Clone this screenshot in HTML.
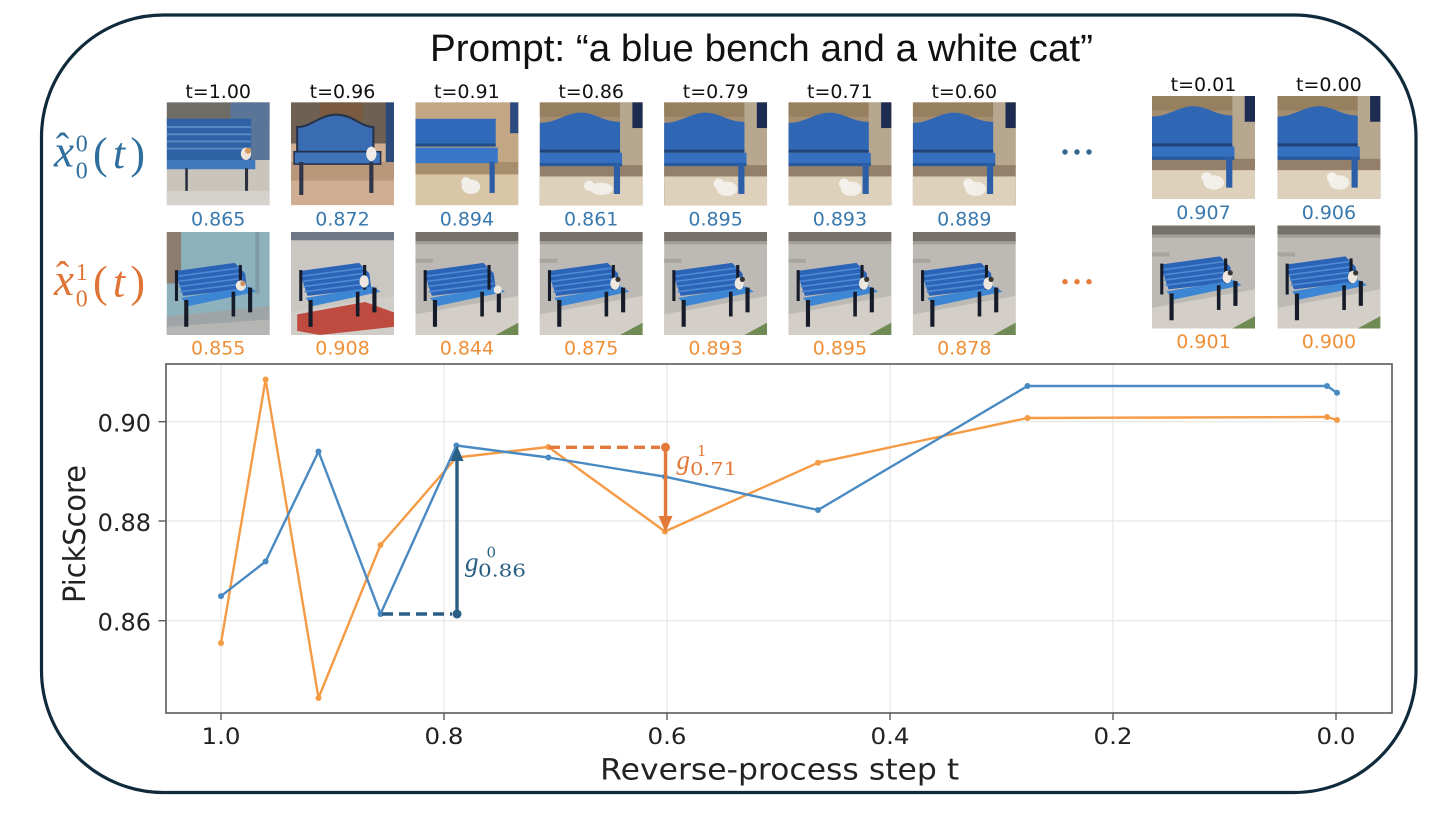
<!DOCTYPE html>
<html><head><meta charset="utf-8"><style>
html,body{margin:0;padding:0;background:#fff;}
svg{display:block;}
.lab{font-family:"DejaVu Sans",sans-serif;font-size:19px;fill:#111;text-anchor:middle;}
.sb{font-family:"DejaVu Sans",sans-serif;font-size:19px;fill:#3a79ae;text-anchor:middle;}
.so{font-family:"DejaVu Sans",sans-serif;font-size:19px;fill:#ef9039;text-anchor:middle;}
.tk{font-family:"DejaVu Sans",sans-serif;font-size:24px;fill:#222;}
.m{font-family:"Liberation Serif",serif;}
.d{font-family:"DejaVu Serif",serif;}
</style></head><body>
<svg width="1444" height="826" viewBox="0 0 1444 826" xmlns="http://www.w3.org/2000/svg">
<defs>
<symbol id="r1" viewBox="0 0 100 100" preserveAspectRatio="none">
<rect width="100" height="100" fill="#a58d71"/>
<rect x="0" y="0" width="100" height="14" fill="#97805f"/>
<rect x="78" y="0" width="22" height="64" fill="#b7a78f"/>
<rect x="90" y="0" width="10" height="25" fill="#1e2c52"/>
<rect x="0" y="61" width="100" height="39" fill="#94806a"/>
<rect x="0" y="72" width="100" height="28" fill="#ddd1bb"/>
<path d="M0,20 C16,20 26,10 40,10 C54,10 62,19 78,19 L78,47 L0,47 Z" fill="#2f67b4"/>
<rect x="0" y="46" width="78" height="3" fill="#1f4378"/>
<rect x="0" y="49" width="80" height="12" fill="#3570c0"/>
<rect x="0" y="59" width="80" height="3" fill="#28599d"/>
<rect x="72" y="60" width="6" height="29" fill="#2c5fa8"/>
</symbol>
<symbol id="r1a" viewBox="0 0 100 100" preserveAspectRatio="none">
<rect width="100" height="100" fill="#c9c4bc"/>
<rect width="100" height="20" fill="#6f6b66"/>
<rect x="62" y="0" width="38" height="56" fill="#5a7597"/>
<rect x="0" y="16" width="82" height="40" fill="#2e62a5"/>
<rect x="0" y="23" width="82" height="2" fill="#5888c2"/>
<rect x="0" y="30" width="82" height="2" fill="#5888c2"/>
<rect x="0" y="37" width="82" height="2" fill="#5888c2"/>
<rect x="0" y="44" width="82" height="2" fill="#5888c2"/>
<rect x="0" y="56" width="86" height="9" fill="#4079bd"/>
<rect x="18" y="64" width="2.5" height="26" fill="#2a303e"/>
<rect x="76" y="64" width="3" height="22" fill="#2a303e"/>
<rect x="0" y="86" width="100" height="14" fill="#d5d1cb"/>
</symbol>
<symbol id="r1b" viewBox="0 0 100 100" preserveAspectRatio="none">
<rect width="100" height="100" fill="#cfae93"/>
<rect width="100" height="40" fill="#6e6053"/>
<rect x="28" y="0" width="42" height="18" fill="#7a5b42"/>
<rect x="92" y="0" width="8" height="62" fill="#2b4a7a"/>
<rect x="0" y="58" width="100" height="18" fill="#b8977b"/>
<path d="M6,24 C20,24 28,12 44,12 C60,12 68,24 80,24 L80,48 L6,48 Z" fill="#3a6cb3" stroke="#25304a" stroke-width="2"/>
<rect x="3" y="48" width="84" height="12" fill="#3f74ba" stroke="#25304a" stroke-width="1.5"/>
<rect x="8" y="58" width="4" height="32" fill="#2e3548"/>
<rect x="76" y="58" width="4" height="30" fill="#2e3548"/>
</symbol>
<symbol id="r1c" viewBox="0 0 100 100" preserveAspectRatio="none">
<rect width="100" height="100" fill="#d8c6a7"/>
<rect width="100" height="58" fill="#c3a785"/>
<rect x="92" y="0" width="8" height="30" fill="#2b4a80"/>
<rect x="0" y="58" width="100" height="12" fill="#a58d6d"/>
<rect x="0" y="16" width="78" height="26" fill="#2f69b9"/>
<rect x="0" y="40" width="78" height="3" fill="#204c88"/>
<rect x="0" y="44" width="80" height="15" fill="#3777c6"/>
<rect x="72" y="58" width="5" height="30" fill="#2a5ca8"/>
</symbol>
<symbol id="b2" viewBox="0 0 100 100" preserveAspectRatio="none">
<polygon points="8,38 66,30 76,40 78,55 16,62" fill="#2b63b6"/>
<path d="M10,43 L70,35 M11,48 L72,40 M12,53 L74,45 M13,58 L76,50" stroke="#4d8ad3" stroke-width="1.6"/>
<polygon points="14,64 80,53 87,58 21,72" fill="#3d86d4"/>
<rect x="8" y="37" width="3" height="30" fill="#151b29"/>
<rect x="17" y="66" width="4" height="26" fill="#151b29"/>
<rect x="63" y="58" width="3.5" height="24" fill="#151b29"/>
<rect x="79" y="54" width="4" height="24" fill="#151b29"/>
<rect x="70" y="32" width="3" height="24" fill="#151b29"/>
</symbol>
<symbol id="r2" viewBox="0 0 100 100" preserveAspectRatio="none">
<rect width="100" height="100" fill="#bdbab5"/>
<rect width="100" height="9" fill="#76716a"/>
<rect y="9" width="100" height="3" fill="#a29e98"/>
<rect x="0" y="26" width="17" height="4" fill="#a8a49f"/>
<polygon points="0,80 100,62 100,100 0,100" fill="#d3cfc8"/>
<polygon points="78,100 100,88 100,100" fill="#6f8a52"/>
</symbol>
<symbol id="r2a" viewBox="0 0 100 100" preserveAspectRatio="none">
<rect width="100" height="100" fill="#8db2bd"/>
<rect width="14" height="50" fill="#8c7d6e"/>
<rect x="86" y="0" width="4" height="60" fill="#7f9ba5"/>
<polygon points="0,82 100,72 100,100 0,100" fill="#9fa5a6"/>
<polygon points="0,92 100,85 100,100 0,100" fill="#b5b6b3"/>
</symbol>
<symbol id="r2b" viewBox="0 0 100 100" preserveAspectRatio="none">
<rect width="100" height="100" fill="#cac6c1"/>
<rect width="100" height="8" fill="#6f7888"/>
<polygon points="0,78 100,62 100,100 0,100" fill="#d0cdc8"/>
<polygon points="6,80 72,68 100,78 100,92 28,100 6,96" fill="#bf4a40"/>
</symbol>
</defs>

<rect width="1444" height="826" fill="#fff"/>
<rect x="41.5" y="15" width="1374.5" height="777.5" rx="122" ry="122" fill="none" stroke="#0f2a3b" stroke-width="3.2"/>

<text x="430" y="61" font-family="'Liberation Sans',sans-serif" font-size="38" fill="#111" textLength="663" lengthAdjust="spacingAndGlyphs">Prompt:  “a blue bench and a white cat”</text>

<!-- row labels -->
<g fill="#2f6f9d">
<text class="m" x="62.5" y="160.5" font-size="40" text-anchor="middle">ˆ</text>
<text class="m" x="54" y="166.7" font-size="45" font-style="italic">x</text>
<text class="m" x="75.7" y="151.7" font-size="24">0</text>
<text class="m" x="75.7" y="178.3" font-size="24">0</text>
<text class="m" x="93" y="168" font-size="44" textLength="52" lengthAdjust="spacing">(<tspan font-style="italic">t</tspan>)</text>
</g>
<g fill="#df7436">
<text class="m" x="62.5" y="288.8" font-size="40" text-anchor="middle">ˆ</text>
<text class="m" x="54" y="295" font-size="45" font-style="italic">x</text>
<text class="m" x="75.7" y="280" font-size="24">1</text>
<text class="m" x="75.7" y="306.6" font-size="24">0</text>
<text class="m" x="93" y="296.3" font-size="44" textLength="52" lengthAdjust="spacing">(<tspan font-style="italic">t</tspan>)</text>
</g>

<!-- column labels -->
<text class="lab" x="218.2" y="98">t=1.00</text>
<text class="lab" x="342.5" y="98">t=0.96</text>
<text class="lab" x="466.9" y="98">t=0.91</text>
<text class="lab" x="591.2" y="98">t=0.86</text>
<text class="lab" x="715.6" y="98">t=0.79</text>
<text class="lab" x="839.9" y="98">t=0.71</text>
<text class="lab" x="964.3" y="98">t=0.60</text>
<text class="lab" x="1203.5" y="91">t=0.01</text>
<text class="lab" x="1328.9" y="91">t=0.00</text>

<!-- row 1 images -->
<g transform="translate(166.7,102.3) scale(1.03)"><use href="#r1a" width="100" height="100"/><ellipse cx="77" cy="50" rx="5" ry="6" fill="#efe4d6"/><circle cx="79" cy="47" r="3" fill="#d49a5e"/></g>
<g transform="translate(291,102.3) scale(1.03)"><use href="#r1b" width="100" height="100"/><ellipse cx="78" cy="50" rx="5" ry="7" fill="#f0ede8"/></g>
<g transform="translate(415.4,102.3) scale(1.03)"><use href="#r1c" width="100" height="100"/><ellipse cx="54" cy="82" rx="9" ry="7" fill="#f2efea"/><circle cx="49" cy="77" r="4.5" fill="#f2efea"/></g>
<g transform="translate(539.7,102.3) scale(1.03)"><use href="#r1" width="100" height="100"/><ellipse cx="60" cy="84" rx="11" ry="6" fill="#f2eee8"/><circle cx="48" cy="81" r="5" fill="#f2eee8"/></g>
<g transform="translate(664.1,102.3) scale(1.03)"><use href="#r1" width="100" height="100"/><ellipse cx="61" cy="84" rx="10" ry="7" fill="#f2eee8"/><circle cx="53" cy="79" r="5" fill="#f4f1ec"/></g>
<g transform="translate(788.4,102.3) scale(1.03)"><use href="#r1" width="100" height="100"/><ellipse cx="61" cy="84" rx="10" ry="7" fill="#f2eee8"/><circle cx="54" cy="79" r="5" fill="#f4f1ec"/></g>
<g transform="translate(912.8,102.3) scale(1.03)"><use href="#r1" width="100" height="100"/><ellipse cx="61" cy="84" rx="10" ry="7" fill="#f2eee8"/><circle cx="54" cy="79" r="5" fill="#f4f1ec"/></g>
<g transform="translate(1152,96) scale(1.03)"><use href="#r1" width="100" height="100"/><ellipse cx="60" cy="84" rx="10" ry="7" fill="#f2eee8"/><circle cx="53" cy="79" r="5" fill="#f4f1ec"/></g>
<g transform="translate(1277.4,96) scale(1.03)"><use href="#r1" width="100" height="100"/><ellipse cx="60" cy="84" rx="10" ry="7" fill="#f2eee8"/><circle cx="53" cy="79" r="5" fill="#f4f1ec"/></g>

<!-- row 1 scores -->
<text class="sb" x="218.2" y="225.7">0.865</text>
<text class="sb" x="342.5" y="225.7">0.872</text>
<text class="sb" x="466.9" y="225.7">0.894</text>
<text class="sb" x="591.2" y="225.7">0.861</text>
<text class="sb" x="715.6" y="225.7">0.895</text>
<text class="sb" x="839.9" y="225.7">0.893</text>
<text class="sb" x="964.3" y="225.7">0.889</text>
<text class="sb" x="1203.5" y="219">0.907</text>
<text class="sb" x="1328.9" y="219">0.906</text>

<!-- row 2 images -->
<g transform="translate(166.7,232) scale(1.03)"><use href="#r2a" width="100" height="100"/><use href="#b2" width="100" height="100"/><ellipse cx="72" cy="52" rx="5" ry="5" fill="#efe6dc"/><circle cx="74" cy="50" r="2.5" fill="#c99060"/></g>
<g transform="translate(291,232) scale(1.03)"><use href="#r2b" width="100" height="100"/><use href="#b2" width="100" height="100"/><ellipse cx="71" cy="48" rx="4.5" ry="6" fill="#ede7df"/></g>
<g transform="translate(415.4,232) scale(1.03)"><use href="#r2" width="100" height="100"/><use href="#b2" width="100" height="100"/><ellipse cx="80" cy="56" rx="4" ry="4" fill="#ede7df"/></g>
<g transform="translate(539.7,232) scale(1.03)"><use href="#r2" width="100" height="100"/><use href="#b2" width="100" height="100"/><ellipse cx="73" cy="50" rx="4.5" ry="6" fill="#ede7df"/><circle cx="76" cy="46" r="2.5" fill="#3a3530"/></g>
<g transform="translate(664.1,232) scale(1.03)"><use href="#r2" width="100" height="100"/><use href="#b2" width="100" height="100"/><ellipse cx="73" cy="50" rx="4.5" ry="6" fill="#ede7df"/><circle cx="76" cy="46" r="2.5" fill="#3a3530"/></g>
<g transform="translate(788.4,232) scale(1.03)"><use href="#r2" width="100" height="100"/><use href="#b2" width="100" height="100"/><ellipse cx="73" cy="50" rx="4.5" ry="6" fill="#ede7df"/><circle cx="76" cy="46" r="2.5" fill="#3a3530"/></g>
<g transform="translate(912.8,232) scale(1.03)"><use href="#r2" width="100" height="100"/><use href="#b2" width="100" height="100"/><ellipse cx="73" cy="50" rx="4.5" ry="6" fill="#ede7df"/><circle cx="76" cy="46" r="2.5" fill="#3a3530"/></g>
<g transform="translate(1152,225.5) scale(1.03)"><use href="#r2" width="100" height="100"/><use href="#b2" width="100" height="100"/><ellipse cx="73" cy="50" rx="4.5" ry="6" fill="#ede7df"/><circle cx="76" cy="46" r="2.5" fill="#3a3530"/></g>
<g transform="translate(1277.4,225.5) scale(1.03)"><use href="#r2" width="100" height="100"/><use href="#b2" width="100" height="100"/><ellipse cx="73" cy="50" rx="4.5" ry="6" fill="#ede7df"/><circle cx="76" cy="46" r="2.5" fill="#3a3530"/></g>

<!-- row 2 scores -->
<text class="so" x="218.2" y="354.3">0.855</text>
<text class="so" x="342.5" y="354.3">0.908</text>
<text class="so" x="466.9" y="354.3">0.844</text>
<text class="so" x="591.2" y="354.3">0.875</text>
<text class="so" x="715.6" y="354.3">0.893</text>
<text class="so" x="839.9" y="354.3">0.895</text>
<text class="so" x="964.3" y="354.3">0.878</text>
<text class="so" x="1203.5" y="348">0.901</text>
<text class="so" x="1328.9" y="348">0.900</text>

<!-- ellipsis dots -->
<g fill="#2d668f"><circle cx="1065" cy="152" r="2.7"/><circle cx="1077" cy="152" r="2.7"/><circle cx="1089" cy="152" r="2.7"/></g>
<g fill="#e57c3a"><circle cx="1065" cy="281.7" r="2.7"/><circle cx="1077" cy="281.7" r="2.7"/><circle cx="1089" cy="281.7" r="2.7"/></g>

<!-- plot grid -->
<g stroke="#e6e6e6" stroke-width="1.2">
<line x1="221" y1="364" x2="221" y2="713"/>
<line x1="444" y1="364" x2="444" y2="713"/>
<line x1="667" y1="364" x2="667" y2="713"/>
<line x1="890" y1="364" x2="890" y2="713"/>
<line x1="1113" y1="364" x2="1113" y2="713"/>
<line x1="1336" y1="364" x2="1336" y2="713"/>
<line x1="166" y1="421.7" x2="1392" y2="421.7"/>
<line x1="166" y1="521" x2="1392" y2="521"/>
<line x1="166" y1="620.7" x2="1392" y2="620.7"/>
</g>

<!-- data lines -->
<polyline fill="none" stroke="#f59b45" stroke-width="2.4" stroke-linejoin="round" points="221,643 265.6,379.5 318.5,698 380.5,545 456.4,457.5 548.4,447 665,531.5 818,462.7 1027.5,418 1327,417 1337,420"/>
<polyline fill="none" stroke="#4a8ac2" stroke-width="2.4" stroke-linejoin="round" points="221,596.1 265.6,561.5 318.5,451.5 380.5,614 456.4,445.5 548.4,457.5 665,476.7 818,510 1027.5,386 1327,386 1337,392.7"/>
<g fill="#f59b45">
<circle cx="221" cy="643" r="3"/><circle cx="265.6" cy="379.5" r="3"/><circle cx="318.5" cy="698" r="3"/><circle cx="380.5" cy="545" r="3"/><circle cx="456.4" cy="457.5" r="3"/><circle cx="548.4" cy="447" r="3"/><circle cx="665" cy="531.5" r="3"/><circle cx="818" cy="462.7" r="3"/><circle cx="1027.5" cy="418" r="3"/><circle cx="1327" cy="417" r="3"/><circle cx="1337" cy="420" r="3"/>
</g>
<g fill="#4a8ac2">
<circle cx="221" cy="596.1" r="3"/><circle cx="265.6" cy="561.5" r="3"/><circle cx="318.5" cy="451.5" r="3"/><circle cx="380.5" cy="614" r="3"/><circle cx="456.4" cy="445.5" r="3"/><circle cx="548.4" cy="457.5" r="3"/><circle cx="665" cy="476.7" r="3"/><circle cx="818" cy="510" r="3"/><circle cx="1027.5" cy="386" r="3"/><circle cx="1327" cy="386" r="3"/><circle cx="1337" cy="392.7" r="3"/>
</g>

<!-- blue annotation -->
<line x1="382" y1="614" x2="452" y2="614" stroke="#2a5f85" stroke-width="3.4" stroke-dasharray="11 6"/>
<line x1="457" y1="614" x2="457" y2="458" stroke="#2a5f85" stroke-width="3.4"/>
<polygon points="457,445.5 450.5,461 463.5,461" fill="#2a5f85"/>
<circle cx="457" cy="614" r="4.5" fill="#2a5f85"/>
<g fill="#2a5f85">
<text class="m" x="465" y="570.8" font-size="27" font-style="italic">g</text>
<text class="d" x="486.5" y="557.5" font-size="15">0</text>
<text class="d" x="478" y="576.7" font-size="17.5" textLength="48" lengthAdjust="spacingAndGlyphs">0.86</text>
</g>

<!-- orange annotation -->
<line x1="549" y1="447.3" x2="660" y2="447.3" stroke="#e2793b" stroke-width="3.4" stroke-dasharray="11 6"/>
<line x1="665.5" y1="447" x2="665.5" y2="519" stroke="#e2793b" stroke-width="3.4"/>
<polygon points="665.5,532 658.5,516 672.5,516" fill="#e2793b"/>
<circle cx="665.5" cy="447.3" r="4.5" fill="#e2793b"/>
<g fill="#e2793b">
<text class="m" x="676.5" y="469.2" font-size="27" font-style="italic">g</text>
<text class="d" x="697" y="456" font-size="15">1</text>
<text class="d" x="690" y="475.1" font-size="17.5" textLength="47" lengthAdjust="spacingAndGlyphs">0.71</text>
</g>

<!-- spines and ticks -->
<rect x="166" y="364" width="1226" height="349" fill="none" stroke="#5a5a5a" stroke-width="1.6"/>
<g stroke="#5a5a5a" stroke-width="1.4">
<line x1="158.5" y1="421.7" x2="166" y2="421.7"/>
<line x1="158.5" y1="521" x2="166" y2="521"/>
<line x1="158.5" y1="620.7" x2="166" y2="620.7"/>
<line x1="221" y1="713" x2="221" y2="720"/>
<line x1="444" y1="713" x2="444" y2="720"/>
<line x1="667" y1="713" x2="667" y2="720"/>
<line x1="890" y1="713" x2="890" y2="720"/>
<line x1="1113" y1="713" x2="1113" y2="720"/>
<line x1="1336" y1="713" x2="1336" y2="720"/>
</g>
<g class="tk" text-anchor="end">
<text x="151" y="431.7">0.90</text>
<text x="151" y="531">0.88</text>
<text x="151" y="630.7">0.86</text>
</g>
<g font-family="'DejaVu Sans',sans-serif" font-size="22" fill="#222" text-anchor="middle">
<text x="221" y="744" textLength="39" lengthAdjust="spacingAndGlyphs">1.0</text>
<text x="444" y="744" textLength="39" lengthAdjust="spacingAndGlyphs">0.8</text>
<text x="667" y="744" textLength="39" lengthAdjust="spacingAndGlyphs">0.6</text>
<text x="890" y="744" textLength="39" lengthAdjust="spacingAndGlyphs">0.4</text>
<text x="1113" y="744" textLength="39" lengthAdjust="spacingAndGlyphs">0.2</text>
<text x="1336" y="744" textLength="39" lengthAdjust="spacingAndGlyphs">0.0</text>
</g>
<text transform="translate(85,534) rotate(-90)" font-family="'DejaVu Sans',sans-serif" font-size="30" fill="#222" text-anchor="middle" textLength="138" lengthAdjust="spacingAndGlyphs">PickScore</text>
<text x="779.7" y="779.3" font-family="'DejaVu Sans',sans-serif" font-size="29" fill="#222" text-anchor="middle" textLength="359" lengthAdjust="spacingAndGlyphs">Reverse-process step t</text>
</svg>
</body></html>
